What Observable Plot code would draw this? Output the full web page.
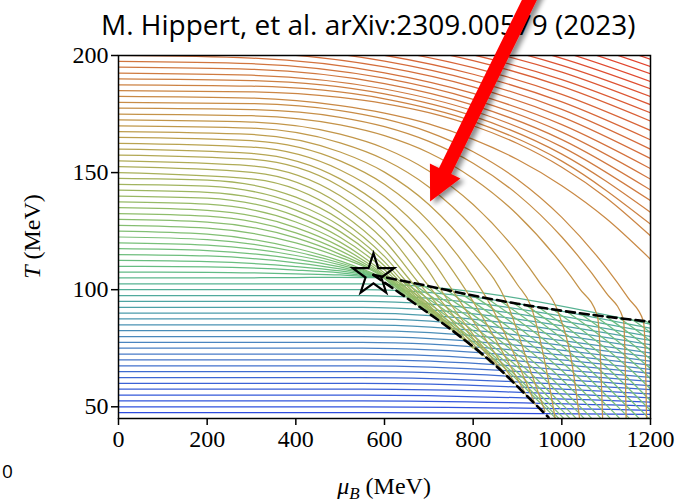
<!DOCTYPE html>
<html><head><meta charset="utf-8">
<script src="https://cdn.jsdelivr.net/npm/d3@7"></script>
<script src="https://cdn.jsdelivr.net/npm/@observablehq/plot@0.6"></script>
<style>body{margin:0;background:#fff}</style>
</head><body><div id="chart"></div>
<script>
// ---- data ----
const xTicks = [0, 200, 400, 600, 800, 1000, 1200];
const yTicks = [50, 100, 150, 200];
const titleText = "M. Hippert, et al. arXiv:2309.00579 (2023)";

// nearly flat lines: T at muB = 0 and at muB = 1200
const lowerT0 = [45,47.5,50,52.5,55,57.5,60,62.5,65,67.5,70,72.5,75,77.5,80,82.5,85,87.5,90,92.5,95,97.5,100,102.5];
const lowerTRight = [45,46.8,48.5,50.3,52,53.8,55.5,57.3,59,60.8,62.5,64.3,66,67.8,69.5,71.3,73,74.8,76.5,78.3,80,81.8,83.5,85.3];
const lowerFlatMu = 550;

// bending lines, [muB, T] points (first point: T at muB = 0)
const upperLines = [
 [[0,232.5],[300,231.3],[600,226],[800,219.6],[1000,210.5],[1200,198.4]],
 [[0,230],[300,228.8],[600,223.4],[800,216.9],[1000,207.6],[1200,195.3]],
 [[0,227.5],[300,226.2],[600,220.8],[800,214.2],[1000,204.7],[1200,192.2]],
 [[0,225],[300,223.7],[600,218.2],[800,211.4],[1000,201.7],[1200,188.9]],
 [[0,222.5],[300,221.2],[600,215.5],[800,208.6],[1000,198.8],[1200,185.8]],
 [[0,220],[300,218.7],[600,212.9],[800,205.8],[1000,195.8],[1200,182.5]],
 [[0,217.5],[300,216.2],[600,210.5],[800,203.2],[1000,192.9],[1200,179]],
 [[0,215],[300,213.7],[600,207.8],[800,200.3],[1000,189.7],[1200,175.5]],
 [[0,212.5],[300,211.2],[600,205.3],[800,197.8],[1000,186.8],[1200,172]],
 [[0,210],[300,208.7],[600,202.6],[800,194.8],[1000,183.4],[1200,168]],
 [[0,207.5],[300,206.2],[600,200.1],[800,192],[1000,180.2],[1200,164]],
 [[0,205],[300,203.8],[600,197.6],[800,189.3],[1000,177],[1200,160]],
 [[0,202.5],[300,201.3],[600,195.1],[800,186.6],[1000,173.8],[1200,156]],
 [[0,200],[300,198.9],[600,192.6],[800,183.8],[1000,170.5],[1200,151.7]],
 [[0,197.5],[300,196.5],[600,190.3],[800,181.3],[1000,167.3],[1200,147.2]],
 [[0,195],[300,194.1],[600,188],[800,178.8],[1000,164.1],[1200,142.6]],
 [[0,192.5],[300,191.6],[600,185.7],[800,176.4],[1000,161],[1200,138]],
 [[0,190],[300,189.3],[600,183.6],[800,174.1],[1000,157.9],[1200,133]],
 [[0,187.5],[300,186.9],[600,181.5],[800,171.9],[1000,154.9],[1200,128]],
 [[0,185],[300,184.5],[500,182.1],[600,179.5],[700,175.6],[800,170],[900,162.4],[1000,152.3],[1100,139.3],[1200,123]],
 [[0,182.5],[300,181.8],[500,178.6],[600,175.4],[700,170.8],[800,164.2],[900,155.6],[1000,144.4],[1100,130.4],[1200,113]],
 [[0,180],[300,179.5],[500,176.5],[600,172.9],[700,167.3],[800,158.9],[900,147.1],[1000,130.9],[1100,109.4],[1150,96.4],[1184,86.6],[1189,67],[1191,45]],
 [[0,177.5],[300,176.9],[500,173.6],[600,169.6],[700,163.3],[800,154],[900,140.7],[1000,122.5],[1100,98.6],[1139,87.4],[1143,67],[1145,45]],
 [[0,175],[300,174.3],[500,170.4],[600,165.8],[700,158.5],[800,147.5],[900,132],[1000,110.8],[1040,100.5],[1080,89],[1088,67],[1092,45]],
 [[0,172.5],[300,171.6],[500,166.4],[600,160.4],[700,150.7],[800,136.4],[900,116],[950,103.1],[990,91.3],[1025,66],[1040,45]],
 [[0,170],[300,169],[500,162.7],[600,155.5],[700,143.9],[800,126.6],[900,102.1],[930,93.1],[965,66],[985,45]],
 [[0,167.5],[300,166.3],[500,158.8],[600,150.2],[700,136.4],[800,115.8],[875,94.9],[930,65],[962,48]],
 [[0,165],[300,163.6],[500,155],[600,145],[700,129.2],[800,105.4],[830,96.5],[940,51]],
 [[0,162.5],[300,160.9],[500,151.1],[600,139.8],[700,121.7],[790,97.9],[920,54.9]],
 [[0,160],[300,158.2],[500,147.3],[600,134.6],[700,114.5],[755,99.3],[900,58.6]],
 [[0,157.5],[300,155.7],[500,144.1],[600,130.3],[700,107.8],[725,100.5],[880,62.3]],
 [[0,155],[300,152.9],[500,140.1],[600,125.2],[700,101.5],[860,66]],
 [[0,152.5],[300,150.1],[500,136.4],[600,120.9],[680,102.3],[840,68.7]],
 [[0,150],[300,147.3],[500,132.9],[600,117.1],[663,102.9],[820,71.9]],
 [[0,147.5],[200,146.8],[400,139.5],[500,129.9],[600,114.2],[650,103.4],[800,75]],
 [[0,145],[200,144.2],[400,136.7],[500,127.2],[600,111.9],[640,103.8],[780,78.4]],
 [[0,142.5],[200,141.6],[400,134],[500,124.8],[600,110.1],[631,104.2],[760,81.5]],
 [[0,140],[200,139.1],[400,131.4],[500,122.4],[600,108.5],[623,104.5],[740,84.3]],
 [[0,137.5],[200,136.5],[400,128.9],[500,120.3],[616,104.7],[720,87]],
 [[0,135],[200,133.9],[400,126.5],[500,118.4],[610,104.9],[700,89.8]],
 [[0,132.5],[200,131.4],[400,124.3],[500,116.7],[604,105.2],[680,92.5]],
 [[0,130],[200,128.9],[400,122.1],[500,115.1],[599,105.4],[660,95.2]],
 [[0,127.5],[200,126.3],[400,120],[500,113.8],[595,105.5],[640,97.8]],
 [[0,125],[200,123.7],[400,117.7],[500,112.3],[591,105.7]],
 [[0,122.5],[200,121.4],[400,116.2],[500,111.4],[590,105.7]],
 [[0,120],[200,119],[400,114.6],[500,110.6],[589,105.7]],
 [[0,117.5],[200,116.7],[400,113.1],[500,109.7],[588,105.6]],
 [[0,115],[200,114.4],[400,111.5],[500,108.9],[588,105.5]],
 [[0,112.5],[200,112],[400,109.9],[500,108],[587,105.4]],
 [[0,110],[200,109.7],[400,108.4],[500,107.2],[587,105.3]],
 [[0,107.5],[200,107.4],[400,106.8],[500,106.3],[586,105.2]],
 [[0,105],[200,105],[400,105.2],[500,105.3],[586,105.1]]
];

// lines inside the coexistence region, running alongside the lower boundary
const foldLines = [
 [[595,105.5],[664,96.5],[764,83],[874,66],[944,53],[984,45.5],[989,44.5]],
 [[605,105.1],[671,96.5],[771,83],[881,66],[951,53],[991,45.5],[996,44.5]],
 [[620,104.6],[682,96.5],[782,83],[892,66],[962,53],[1002,45.5],[1007,44.5]],
 [[640,103.8],[696,96.5],[796,83],[906,66],[976,53],[1016,45.5],[1021,44.5]],
 [[660,103],[710,96.5],[810,83],[920,66],[990,53],[1030,45.5],[1035,44.5]],
 [[685,102.1],[728,96.5],[828,83],[938,66],[1008,53],[1048,45.5],[1053,44.5]],
 [[710,101.1],[745,96.5],[845,83],[955,66],[1025,53],[1065,45.5],[1070,44.5]],
 [[740,99.9],[766,96.5],[866,83],[976,66],[1046,53],[1086,45.5],[1091,44.5]],
 [[770,98.7],[787,96.5],[887,83],[997,66],[1067,53],[1107,45.5],[1112,44.5]],
 [[800,97.5],[808,96.5],[908,83],[1018,66],[1088,53],[1128,45.5],[1133,44.5]],
 [[830,96.5],[930,83],[1040,66],[1110,53],[1150,45.5],[1155,44.5]],
 [[860,95.4],[952,83],[1062,66],[1132,53],[1172,45.5],[1177,44.5]],
 [[890,94.4],[974,83],[1084,66],[1154,53],[1194,45.5],[1199,44.5]],
 [[920,93.3],[996,83],[1106,66],[1176,53],[1216,45.5]],
 [[950,92.2],[1018,83],[1128,66],[1198,53],[1238,45.5]],
 [[980,91.6],[1044,83],[1154,66],[1224,53]],
 [[1010,90.8],[1068,83],[1178,66],[1248,53]],
 [[1040,90],[1092,83],[1202,66]],
 [[1070,89.3],[1117,83],[1227,66]],
 [[1100,88.5],[1141,83],[1251,66]],
 [[1130,87.8],[1166,83],[1276,66]],
 [[1160,87.2],[1191,83],[1301,66]],
 [[1190,86.5],[1216,83]]
];
const foldColorValue = [126,125,125,124,124,123,122,122,121,120,120,119,118,118,117,116,116,115,114,114,113,112,112];

const spinodalUpper = [[575,106.3],[700,101.5],[800,97.5],[900,94],[1000,91],[1100,88.5],[1200,86.3]];
const spinodalLower = [[575,106.3],[650,96.5],[750,83],[860,66],[930,53],[970,45.5]];
const criticalPoint = [{mu: 575, T: 106.3}];

const colorDomain = [45, 60, 75, 90, 100, 108, 120, 135, 150, 165, 180, 195, 210, 225, 235];
const colorRange = ["#2a48e0","#3b62d6","#4a80c4","#4c9cac","#52ae98","#62bc84","#78c07a","#92bc68","#a8b05a","#bca04e","#c88c46","#d07840","#d86438","#e04a30","#e43a2a"];

const arrowTip = {mu: 704, T: 137.5};
const arrowTail = {mu: 945, T: 230};

// ---- build rows ----
const rows = [];
lowerT0.forEach((t0, i) => {
  const id = "a" + i;
  rows.push({id, mu: 0, T: t0, c: t0}, {id, mu: lowerFlatMu, T: t0, c: t0}, {id, mu: 1200, T: lowerTRight[i], c: t0});
});
foldLines.forEach((pts, i) => {
  pts.forEach(([mu, T]) => rows.push({id: "c" + i, mu, T, c: foldColorValue[i]}));
});
upperLines.forEach((pts, i) => {
  const c = pts[0][1];
  pts.forEach(([mu, T]) => rows.push({id: "b" + i, mu, T, c}));
});
const toObj = a => a.map(([mu, T]) => ({mu, T}));

const serif = "'Liberation Serif', 'DejaVu Serif', serif";
const W = 679, H = 503;
const fig = Plot.plot({
  width: W, height: H,
  marginLeft: 118, marginRight: 29, marginTop: 55, marginBottom: 85,
  x: {domain: [0, 1200]},
  y: {domain: [45, 200]},
  color: {type: "linear", domain: colorDomain, range: colorRange, interpolate: "rgb"},
  style: `font-family: ${serif}; font-size: 24px; background: white; overflow: visible;`,
  marks: [
    Plot.line(rows, {x: "mu", y: "T", z: "id", stroke: "c", strokeWidth: 1.25, curve: "monotone-x", clip: true}),
    Plot.line(toObj(spinodalUpper), {x: "mu", y: "T", stroke: "black", strokeWidth: 2.6, strokeDasharray: "9,5", curve: "monotone-x", clip: true}),
    Plot.line(toObj(spinodalLower), {x: "mu", y: "T", stroke: "black", strokeWidth: 2.6, strokeDasharray: "9,5", curve: "monotone-x", clip: true}),
    Plot.dot(criticalPoint, {x: "mu", y: "T", symbol: "star", r: 13, stroke: "black", strokeWidth: 2.2, fill: "none"}),
    Plot.frame({stroke: "black", strokeWidth: 1.5}),
    Plot.axisX({ticks: xTicks, tickSize: 7, tickPadding: 4, tickFormat: d => String(d), label: null, fontSize: 24, fontFamily: serif, strokeWidth: 1.5}),
    Plot.axisY({ticks: yTicks, tickSize: 7, tickPadding: 3, tickFormat: d => String(d), label: null, fontSize: 24, fontFamily: serif, strokeWidth: 1.5})
  ]
});
document.getElementById("chart").appendChild(fig);

const sx = fig.scale("x"), sy = fig.scale("y");
const svg = d3.select(fig);
svg.selectAll("text").style("font-family", serif);

// axis labels
const xl = svg.append("text")
  .attr("x", (sx.apply(0) + sx.apply(1200)) / 2).attr("y", H - 9)
  .attr("text-anchor", "middle").style("font-family", serif).style("font-size", "24px").attr("fill", "black");
xl.append("tspan").style("font-style", "italic").text("μ");
xl.append("tspan").style("font-style", "italic").style("font-size", "17px").attr("dy", 5).text("B");
xl.append("tspan").attr("dy", -5).text(" (MeV)");

const ycx = 40, ycy = (sy.apply(45) + sy.apply(200)) / 2;
const yl = svg.append("text")
  .attr("transform", `translate(${ycx},${ycy}) rotate(-90)`)
  .attr("text-anchor", "middle").style("font-family", serif).style("font-size", "24px").attr("fill", "black");
yl.append("tspan").style("font-style", "italic").text("T");
yl.append("tspan").text(" (MeV)");

// title
svg.append("text").attr("x", 101).attr("y", 35).attr("text-anchor", "start")
  .style("font-family", "'Open Sans', sans-serif").style("font-size", "28px").attr("fill", "black")
  .text(titleText);

// stray label at bottom-left
svg.append("text").attr("x", 2).attr("y", 478).attr("text-anchor", "start")
  .style("font-family", "'Open Sans', sans-serif").style("font-size", "19px").attr("fill", "black").text("0");

// red arrow annotation
const tx = sx.apply(arrowTip.mu), ty = sy.apply(arrowTip.T);
const ax = sx.apply(arrowTail.mu), ay = sy.apply(arrowTail.T);
const len = Math.hypot(ax - tx, ay - ty);
const ux = (ax - tx) / len, uy = (ay - ty) / len;
const nx = -uy, ny = ux;
const headL = 34, headW = 17, shaftW = 6.8;
const bx = tx + ux * headL, by = ty + uy * headL;
const P = (x, y) => `${x.toFixed(1)},${y.toFixed(1)}`;
const d = "M" + [
  P(tx, ty), P(bx + nx * headW, by + ny * headW), P(bx + nx * shaftW, by + ny * shaftW),
  P(ax + nx * shaftW, ay + ny * shaftW), P(ax - nx * shaftW, ay - ny * shaftW),
  P(bx - nx * shaftW, by - ny * shaftW), P(bx - nx * headW, by - ny * headW)
].join("L") + "Z";
const defs = svg.append("defs");
const f = defs.append("filter").attr("id", "shadow").attr("x", "-50%").attr("y", "-50%").attr("width", "200%").attr("height", "200%");
f.append("feGaussianBlur").attr("in", "SourceAlpha").attr("stdDeviation", 2.5);
f.append("feOffset").attr("dx", 4).attr("dy", 3).attr("result", "o");
f.append("feComponentTransfer").append("feFuncA").attr("type", "linear").attr("slope", 0.45);
const m = f.append("feMerge"); m.append("feMergeNode"); m.append("feMergeNode").attr("in", "SourceGraphic");
svg.append("path").attr("d", d).attr("fill", "#ff0000").attr("filter", "url(#shadow)");
</script>
</body></html>
